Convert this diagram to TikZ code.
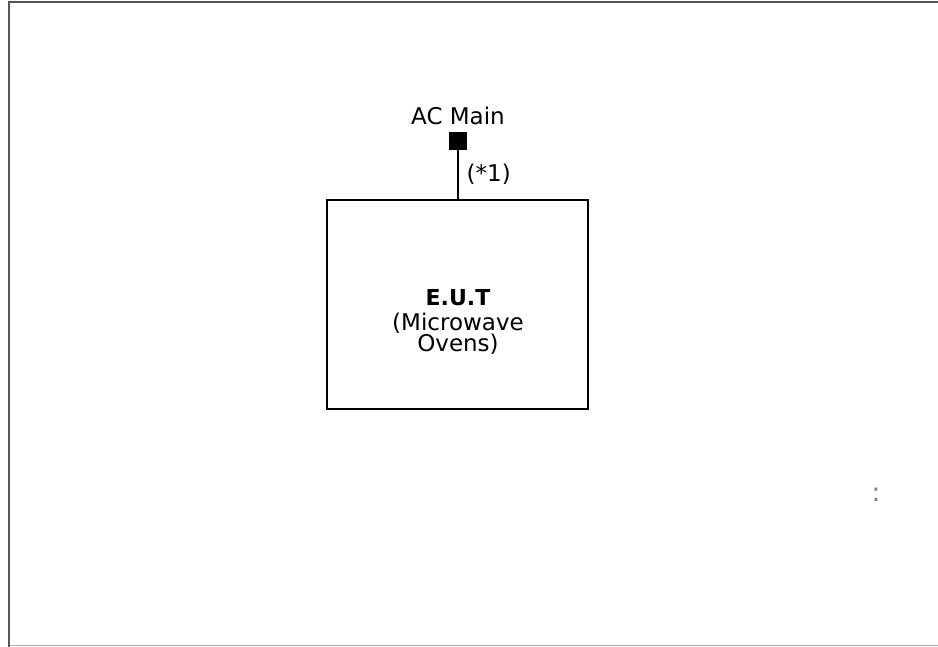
\documentclass[tikz,border=0pt]{standalone}
\usepackage{fontspec}
\setmainfont{DejaVu Sans}
\usetikzlibrary{positioning}
\definecolor{framegray}{HTML}{555555}
\definecolor{edgegray}{HTML}{AAAAAA}

\begin{document}
\begin{tikzpicture}[x=1pt, y=-1pt,
  eutbox/.style={draw, line width=1.4pt, minimum width=261pt, minimum height=209pt,
                 inner sep=0pt},
  terminal/.style={fill=black, minimum width=18pt, minimum height=18pt, inner sep=0pt},
  lbl/.style={font=\fontsize{23}{21.5}\selectfont, inner sep=0pt}
]
  \useasboundingbox (0,0) rectangle (938,647);

  % Frame
  \draw[framegray, line width=2pt] (938,2.5) -- (8.5,2.5) -- (8.5,647);
  \draw[edgegray, line width=1pt] (9.5,645.5) -- (938,645.5);

  % Equipment under test
  \node[eutbox] (eut) at (457.5,304.5) {};
  \node[lbl, font=\fontsize{22}{21.5}\selectfont\bfseries] (eutname) at (458,298) {E.U.T};
  \node[lbl, align=center, anchor=north] (eutdesc) at (458,312.5) {(Microwave\\Ovens)};

  % Mains terminal
  \node[terminal] (acmain) at (458,141) {};
  \node[lbl, above=7pt of acmain] (aclabel) {AC Main};
  \draw[line width=1.4pt] (acmain.south) -- (acmain.south |- eut.north)
    node[lbl, midway, right=8pt] (note) {(*1)};

  % Stray mark
  \node[lbl, text=gray, font=\fontsize{26}{26}\selectfont] (dots) at (876,495) {:};
\end{tikzpicture}
\end{document}
